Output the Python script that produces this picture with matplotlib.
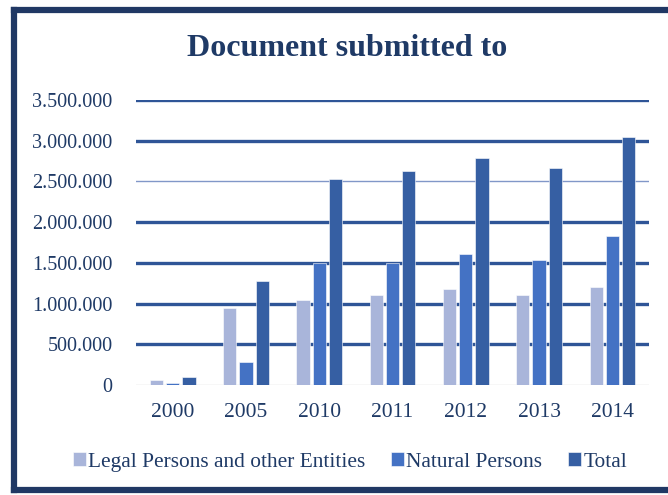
import numpy as np
import matplotlib.pyplot as plt
from matplotlib.lines import Line2D

years = ["2000", "2005", "2010", "2011", "2012", "2013", "2014"]
legal = [58000, 946000, 1044000, 1110000, 1176000, 1110000, 1208000]
natural = [25000, 286000, 1502000, 1502000, 1606000, 1536000, 1834000]
total = [95000, 1278000, 2527000, 2629000, 2792000, 2662000, 3050000]

series_names = ["Legal Persons and other Entities", "Natural Persons", "Total"]
colors = ["#A9B5DA", "#4472C4", "#365FA3"]
navy = "#203864"
text_col = "#1F3A66"

plt.rcParams['font.family'] = ['Liberation Serif', 'DejaVu Serif']

fig = plt.figure(figsize=(6.68, 4.95), dpi=100)
ax = fig.add_axes([0.2036, 0.2222, 0.7680, 0.5758])

x = np.arange(len(years))
w = 0.18
step = 0.222
for i, vals in enumerate([legal, natural, total]):
    ax.bar(x + (i - 1) * step, vals, w, color=colors[i], label=series_names[i],
           edgecolor="white", linewidth=0.4, zorder=3)

# horizontal gridlines, the 2.5M one is thin
for v in [500000, 1000000, 1500000, 2000000, 3000000, 3500000]:
    ax.axhline(v, color="#2F5597", lw=2.4, zorder=1)
ax.axhline(2500000, color="#8197C8", lw=1.0, zorder=1)
ax.axhline(0, color="#D9D9D9", lw=1.0, zorder=2)

ax.set_xlim(-0.5, len(years) - 0.5)
ax.set_ylim(0, 3500000)
ax.set_yticks(np.arange(0, 3500001, 500000))
ax.set_yticklabels(["0", "500.000", "1.000.000", "1.500.000", "2.000.000",
                    "2.500.000", "3.000.000", "3.500.000"])
ax.set_xticks(x)
ax.set_xticklabels(years)
ax.tick_params(axis="y", length=0, pad=17, labelsize=14.5, labelcolor=text_col)
ax.tick_params(axis="x", length=0, pad=13, labelsize=15.5, labelcolor=text_col)
for s in ax.spines.values():
    s.set_visible(False)

fig.text(0.52, 0.903, "Document submitted to", ha="center", va="center",
         fontsize=23, fontweight="bold", color=text_col)

leg = fig.legend(loc="center", bbox_to_anchor=(0.524, 0.067), ncol=3, frameon=False,
                 fontsize=15.4, handlelength=0.6, handleheight=0.6, handletextpad=0.12,
                 columnspacing=1.2)
for t in leg.get_texts():
    t.set_color(text_col)

# outer frame: top, left, bottom
fig.add_artist(Line2D([0.0217, 1.0], [0.980, 0.980], color=navy, lw=4.5, transform=fig.transFigure))
fig.add_artist(Line2D([0.0217, 0.0217], [0.980, 0.010], color=navy, lw=4.5, transform=fig.transFigure))
fig.add_artist(Line2D([0.0217, 1.0], [0.010, 0.010], color=navy, lw=4.5, transform=fig.transFigure))

fig.savefig("out.png", dpi=100)
